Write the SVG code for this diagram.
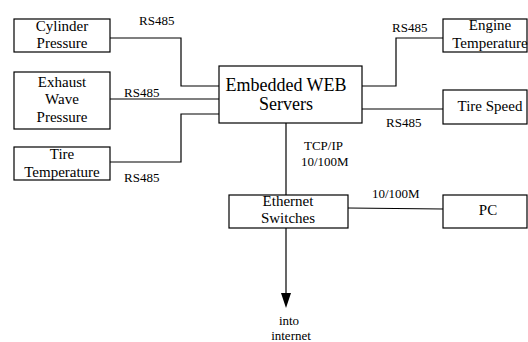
<svg xmlns="http://www.w3.org/2000/svg" width="528" height="342" viewBox="0 0 528 342">
<defs>
<style>
.box{fill:#fff;stroke:#000;stroke-width:1.2}
.t{font-family:"Liberation Serif","Times New Roman","DejaVu Serif",serif;font-size:15px;fill:#000;text-anchor:middle}
.big{font-size:18px}
.lb{font-family:"Liberation Serif","Times New Roman","DejaVu Serif",serif;font-size:13px;fill:#000}
.c{fill:none;stroke:#000;stroke-width:1.2}
.ah{fill:#000;stroke:none}
</style>
</defs>
<rect width="528" height="342" fill="#fff"/>
<g id="connectors">
<polyline class="c" points="110,38 181,38 181,86 219,86"/>
<line class="c" x1="110" y1="99" x2="219" y2="99"/>
<polyline class="c" points="110,162 181,162 181,114 219,114"/>
<polyline class="c" points="362,86 396,86 396,38 443,38"/>
<line class="c" x1="362" y1="109" x2="443" y2="109"/>
<line class="c" x1="286" y1="123" x2="286" y2="195"/>
<line class="c" x1="348" y1="208" x2="443" y2="209"/>
<line class="c" x1="286" y1="228" x2="286" y2="294"/>
<polygon class="ah" points="281,293 291,293 286,308"/>
<text class="lb" x="139" y="25">RS485</text>
<text class="lb" x="124" y="97">RS485</text>
<text class="lb" x="124" y="182">RS485</text>
<text class="lb" x="392" y="32">RS485</text>
<text class="lb" x="386" y="127">RS485</text>
<text class="lb" x="304" y="150">TCP/IP</text>
<text class="lb" x="301" y="166">10/100M</text>
<text class="lb" x="372" y="198">10/100M</text>
<text class="lb" x="289" y="325" text-anchor="middle">into</text>
<text class="lb" x="291" y="340" text-anchor="middle">internet</text>
</g>
<g id="cylinder">
<rect class="box" x="14" y="19" width="96" height="33"/>
<text class="t" x="62" y="31">Cylinder</text>
<text class="t" x="62" y="48">Pressure</text>
</g>
<g id="exhaust">
<rect class="box" x="14" y="72" width="96" height="57"/>
<text class="t" x="62" y="87">Exhaust</text>
<text class="t" x="62" y="104">Wave</text>
<text class="t" x="62" y="122">Pressure</text>
</g>
<g id="tiretemp">
<rect class="box" x="14" y="147" width="96" height="33"/>
<text class="t" x="62" y="159">Tire</text>
<text class="t" x="62" y="177">Temperature</text>
</g>
<g id="server">
<rect class="box" x="219" y="66" width="143" height="57"/>
<text class="t big" x="286" y="91">Embedded WEB</text>
<text class="t big" x="286" y="110">Servers</text>
</g>
<g id="engine">
<rect class="box" x="443" y="19" width="84" height="33"/>
<text class="t" x="490" y="30">Engine</text>
<text class="t" x="490" y="48">Temperature</text>
</g>
<g id="tirespeed">
<rect class="box" x="443" y="90" width="84" height="34"/>
<text class="t" x="490" y="111">Tire Speed</text>
</g>
<g id="switch">
<rect class="box" x="229" y="195" width="119" height="33"/>
<text class="t" x="288" y="206">Ethernet</text>
<text class="t" x="288" y="223">Switches</text>
</g>
<g id="pc">
<rect class="box" x="443" y="195" width="84" height="33"/>
<text class="t" x="488" y="215">PC</text>
</g>
</svg>
